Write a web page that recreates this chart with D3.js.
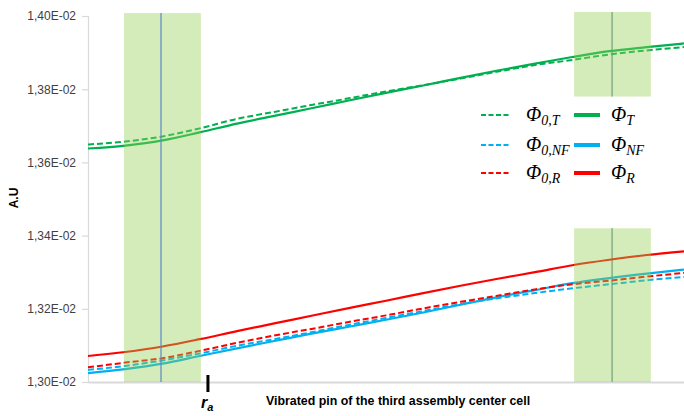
<!DOCTYPE html>
<html>
<head>
<meta charset="utf-8">
<script src="https://cdn.jsdelivr.net/npm/d3@7/dist/d3.min.js"></script>
<style>
  html, body { margin: 0; padding: 0; background: #fff; }
  svg { display: block; }
</style>
</head>
<body>
<svg id="chart" width="684" height="416"></svg>
<script>
// ---------- data ----------
const xPos   = [0, 1, 2, 3, 4, 5, 6, 7, 8, 9, 10, 11, 12, 13, 14, 15, 16];
const phi0T  = [0.013649, 0.013657, 0.013671, 0.013693, 0.013719, 0.013738, 0.013757, 0.013775, 0.013794, 0.013811, 0.013829, 0.013848, 0.013866, 0.013880, 0.013895, 0.013906, 0.013915];
const phiT   = [0.013638, 0.013646, 0.013660, 0.013682, 0.013706, 0.013727, 0.013748, 0.013769, 0.013790, 0.013810, 0.013831, 0.013851, 0.013870, 0.013888, 0.013904, 0.013915, 0.013925];
const phi0NF = [0.013033, 0.013044, 0.013059, 0.013078, 0.013099, 0.013117, 0.013136, 0.013156, 0.013175, 0.013194, 0.013213, 0.013229, 0.013243, 0.013256, 0.013267, 0.013278, 0.013287];
const phiNF  = [0.013024, 0.013035, 0.013050, 0.013071, 0.013092, 0.013112, 0.013132, 0.013151, 0.013170, 0.013190, 0.013211, 0.013232, 0.013251, 0.013270, 0.013284, 0.013296, 0.013307];
const phi0R  = [0.013040, 0.013053, 0.013065, 0.013085, 0.013107, 0.013127, 0.013145, 0.013164, 0.013182, 0.013201, 0.013219, 0.013236, 0.013253, 0.013267, 0.013277, 0.013288, 0.013298];
const phiR   = [0.013071, 0.013082, 0.013097, 0.013117, 0.013139, 0.013160, 0.013181, 0.013202, 0.013222, 0.013243, 0.013263, 0.013282, 0.013300, 0.013319, 0.013334, 0.013347, 0.013357];
const yTicks = [0.0130, 0.0132, 0.0134, 0.0136, 0.0138, 0.0140];
const yTickLabels = ["1,30E-02", "1,32E-02", "1,34E-02", "1,36E-02", "1,38E-02", "1,40E-02"];
// highlighted regions: [x0, x1, yLow, yHigh], centre line x
const bands = [
  {x0: 0.966, x1: 3.03, y0: 0.0130, y1: 0.014008, cx: 1.96, line: "front"},
  {x0: 13.05, x1: 15.11, y0: 0.013780, y1: 0.014011, cx: 14.07, line: "back"},
  {x0: 13.05, x1: 15.11, y0: 0.0130, y1: 0.013420, cx: 14.07, line: "back"}
];
const raX = 3.22;
const xTitle = "Vibrated pin of the third assembly center cell";
const yTitle = "A.U";

const series = [
  {name: "0,T",  base: "Φ", sub: "0,T",  values: phi0T,  color: "#00b050", dashed: true},
  {name: "T",    base: "Φ", sub: "T",    values: phiT,   color: "#00b050", dashed: false},
  {name: "0,NF", base: "Φ", sub: "0,NF", values: phi0NF, color: "#00b0f0", dashed: true},
  {name: "NF",   base: "Φ", sub: "NF",   values: phiNF,  color: "#00b0f0", dashed: false},
  {name: "0,R",  base: "Φ", sub: "0,R",  values: phi0R,  color: "#ff0000", dashed: true},
  {name: "R",    base: "Φ", sub: "R",    values: phiR,   color: "#ff0000", dashed: false}
];

// ---------- layout ----------
const svg = d3.select("#chart");
const x = d3.scaleLinear().domain([0, 16]).range([88, 684]);
const y = d3.scaleLinear().domain([0.0130, 0.0140]).range([382, 16]);

// axes
const yAxis = d3.axisLeft(y).tickValues(yTicks).tickSize(6)
  .tickFormat((d, i) => yTickLabels[i]);
const gy = svg.append("g").attr("transform", `translate(${x(0)},0)`).call(yAxis);
gy.select(".domain").attr("stroke", "#d9d9d9").attr("stroke-width", 1.2);
gy.selectAll(".tick line").attr("stroke", "#d9d9d9").attr("stroke-width", 1.2);
gy.selectAll(".tick text").attr("x", -12).attr("fill", "#404040")
  .style("font-family", "'Liberation Sans', Arial, sans-serif").style("font-size", "12px");

const xAxis = d3.axisBottom(x).tickValues([]).tickSizeOuter(0);
const gx = svg.append("g").attr("transform", `translate(0,${y(0.0130)})`).call(xAxis);
gx.select(".domain").attr("stroke", "#d9d9d9").attr("stroke-width", 2);

// back lines of bands
bands.filter(b => b.line === "back").forEach(b => {
  svg.append("line")
    .attr("x1", x(b.cx)).attr("x2", x(b.cx))
    .attr("y1", y(b.y1)).attr("y2", y(b.y0))
    .attr("stroke", "#7f9aa8").attr("stroke-width", 1.5);
});

// series lines
const lineGen = d3.line().x((d, i) => x(xPos[i])).y(d => y(d)).curve(d3.curveMonotoneX);
series.forEach(s => {
  svg.append("path").datum(s.values)
    .attr("d", lineGen)
    .attr("fill", "none")
    .attr("stroke", s.color)
    .attr("stroke-width", s.dashed ? 2 : 2.2)
    .attr("stroke-dasharray", s.dashed ? "6,3" : null);
});

// translucent bands on top
bands.forEach(b => {
  svg.append("rect")
    .attr("x", x(b.x0)).attr("width", x(b.x1) - x(b.x0))
    .attr("y", y(b.y1)).attr("height", y(b.y0) - y(b.y1))
    .attr("fill", "#92d050").attr("fill-opacity", 0.4);
});
bands.filter(b => b.line === "front").forEach(b => {
  svg.append("line")
    .attr("x1", x(b.cx)).attr("x2", x(b.cx))
    .attr("y1", y(b.y1)).attr("y2", y(b.y0))
    .attr("stroke", "#5b87c8").attr("stroke-width", 1.2);
});

// r_a marker
svg.append("line")
  .attr("x1", x(raX)).attr("x2", x(raX))
  .attr("y1", y(0.0130) - 7).attr("y2", y(0.0130) + 10)
  .attr("stroke", "#000").attr("stroke-width", 3);
const ra = svg.append("text")
  .attr("x", x(raX) - 7).attr("y", 408)
  .style("font-family", "'Liberation Sans', Arial, sans-serif")
  .style("font-weight", "bold").style("font-style", "italic").style("font-size", "16px")
  .attr("fill", "#000");
ra.append("tspan").text("r");
ra.append("tspan").attr("dy", 3).style("font-size", "11px").text("a");

// axis titles
svg.append("text")
  .attr("x", 398).attr("y", 405).attr("text-anchor", "middle")
  .style("font-family", "'Liberation Sans', Arial, sans-serif")
  .style("font-weight", "bold").style("font-size", "12.4px").attr("fill", "#000")
  .text(xTitle);
svg.append("text")
  .attr("transform", "translate(18,198) rotate(-90)").attr("text-anchor", "middle")
  .style("font-family", "'Liberation Sans', Arial, sans-serif")
  .style("font-weight", "bold").style("font-size", "12px").attr("fill", "#000")
  .text(yTitle);

// legend
const rows = [115, 145, 173];
const cols = [{sx: 481, ex: 509, tx: 526}, {sx: 574, ex: 600, tx: 611}];
series.forEach((s, i) => {
  const r = Math.floor(i / 2), c = i % 2;
  const cy = rows[r], col = cols[c];
  svg.append("line")
    .attr("x1", col.sx).attr("x2", col.ex).attr("y1", cy).attr("y2", cy)
    .attr("stroke", s.color)
    .attr("stroke-width", s.dashed ? 2 : 4)
    .attr("stroke-dasharray", s.dashed ? "5,2.5" : null);
  const t = svg.append("text")
    .attr("x", col.tx).attr("y", cy + 6)
    .style("font-family", "'Liberation Serif', 'DejaVu Serif', serif")
    .style("font-style", "italic").style("font-size", "20px").attr("fill", "#000");
  t.append("tspan").text(s.base);
  t.append("tspan").attr("dy", 4).style("font-size", "14px").text(s.sub);
});
</script>
</body>
</html>
